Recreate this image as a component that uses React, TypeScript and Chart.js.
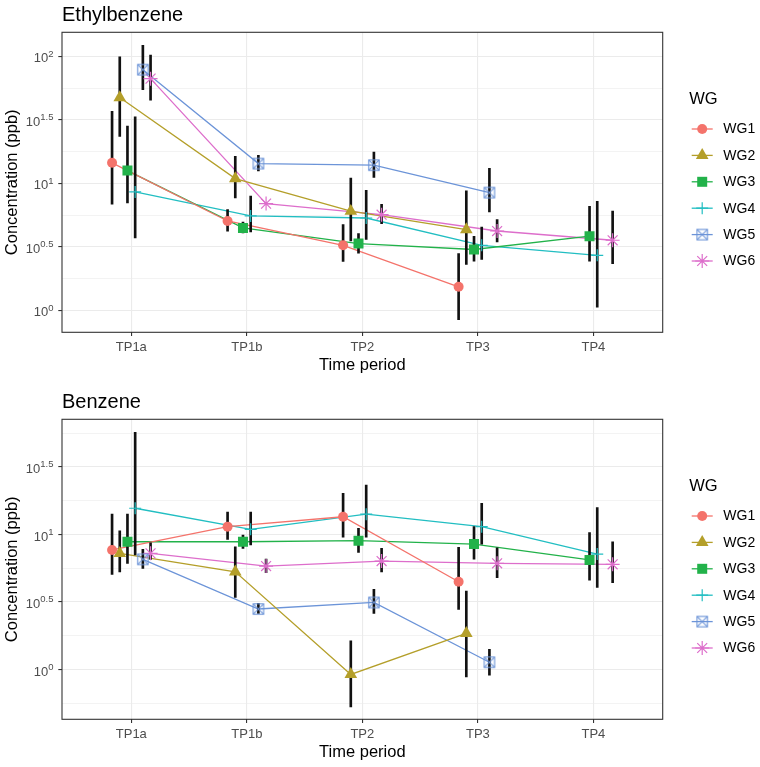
import React, { useEffect, useRef } from 'react';
import { Chart, registerables } from 'chart.js';

Chart.register(...registerables);

const FONT = '"Liberation Sans", Arial, Helvetica, sans-serif';

const CATEGORIES = ['TP1a', 'TP1b', 'TP2', 'TP3', 'TP4'];
const GROUPS = ['WG1', 'WG2', 'WG3', 'WG4', 'WG5', 'WG6'];
const GROUP_COLORS = ['#F4736B', '#B49F2A', '#22B24A', '#22BEC2', '#6C94D8', '#DD6ECB'];
const GROUP_SHAPES = ['circle', 'triangle', 'square', 'plus', 'squareCross', 'asterisk'];
const DODGE_WIDTH = 0.4;

const Y_TICK_EXPONENTS = [0, 0.5, 1, 1.5, 2];
const Y_TICK_LABELS = ['0', '0.5', '1', '1.5', '2'];

// Ethylbenzene (ppb): point value, lower and upper end of error bar
const ETHYL_Y_MIN = 0.671;
const ETHYL_Y_MAX = 154.5;
const ETHYL_WG1 = [14.5, 5.05, 3.25, 1.53, null];
const ETHYL_WG1_LO = [6.84, 4.19, 2.43, 0.845, null];
const ETHYL_WG1_HI = [36.9, 6.21, 4.73, 2.79, null];
const ETHYL_WG2 = [47.3, 10.9, 6.03, 4.32, null];
const ETHYL_WG2_LO = [23.4, 7.66, 3.51, 2.3, null];
const ETHYL_WG2_HI = [98.9, 16.3, 11.0, 8.71, null];
const ETHYL_WG3 = [12.6, 4.45, 3.35, 3.01, 3.83];
const ETHYL_WG3_LO = [7.0, 4.06, 2.82, 2.44, 2.44];
const ETHYL_WG3_HI = [28.2, 4.95, 4.02, 3.83, 6.59];
const ETHYL_WG4 = [8.55, 5.53, 5.33, 3.25, 2.71];
const ETHYL_WG4_LO = [3.72, 4.14, 3.61, 2.51, 1.06];
const ETHYL_WG4_HI = [33.3, 7.94, 8.81, 4.53, 7.21];
const ETHYL_WG5 = [78.5, 14.3, 13.9, 8.45, null];
const ETHYL_WG5_LO = [54.7, 12.5, 11.1, 5.94, null];
const ETHYL_WG5_HI = [122, 16.6, 17.6, 13.1, null];
const ETHYL_WG6 = [66.7, 6.92, 5.66, 4.21, 3.56];
const ETHYL_WG6_LO = [45.1, null, 4.82, 3.45, 2.33];
const ETHYL_WG6_HI = [102, null, 6.84, 5.18, 6.05];

// Benzene (ppb)
const BENZ_Y_MIN = 0.427;
const BENZ_Y_MAX = 71.1;
const BENZ_WG1 = [7.66, 11.4, 13.5, 4.46, null];
const BENZ_WG1_LO = [5.06, 9.18, 9.51, 2.78, null];
const BENZ_WG1_HI = [14.1, 14.6, 20.1, 8.02, null];
const BENZ_WG2 = [7.23, 5.28, 0.918, 1.85, null];
const BENZ_WG2_LO = [5.28, 3.41, 0.528, 0.881, null];
const BENZ_WG2_HI = [10.6, 8.09, 1.63, 3.8, null];
const BENZ_WG3 = [8.81, 8.81, 8.97, 8.47, 6.46];
const BENZ_WG3_LO = [6.1, 7.87, 7.36, 6.56, 4.58];
const BENZ_WG3_HI = [14.1, 9.89, 11.1, 11.4, 10.3];
const BENZ_WG4 = [15.6, 10.9, 14.1, 11.4, 7.14];
const BENZ_WG4_LO = [7.03, 8.34, 9.51, 8.47, 4.05];
const BENZ_WG4_HI = [57.0, 14.6, 23.2, 17.0, 15.8];
const BENZ_WG5 = [6.53, 2.8, 3.13, 1.13, null];
const BENZ_WG5_LO = [5.6, 2.6, 2.6, 0.908, null];
const BENZ_WG5_HI = [7.74, 3.08, 3.92, 1.41, null];
const BENZ_WG6 = [7.23, 5.82, 6.34, 6.1, 6.0];
const BENZ_WG6_LO = [6.53, 5.2, 5.28, 4.78, 4.38];
const BENZ_WG6_HI = [8.67, 6.56, 7.87, 7.96, 8.81];

type Arr = (number | null)[];
type Series = { mean: Arr; lo: Arr; hi: Arr };

const ETHYL_SERIES: Series[] = [
  { mean: ETHYL_WG1, lo: ETHYL_WG1_LO, hi: ETHYL_WG1_HI },
  { mean: ETHYL_WG2, lo: ETHYL_WG2_LO, hi: ETHYL_WG2_HI },
  { mean: ETHYL_WG3, lo: ETHYL_WG3_LO, hi: ETHYL_WG3_HI },
  { mean: ETHYL_WG4, lo: ETHYL_WG4_LO, hi: ETHYL_WG4_HI },
  { mean: ETHYL_WG5, lo: ETHYL_WG5_LO, hi: ETHYL_WG5_HI },
  { mean: ETHYL_WG6, lo: ETHYL_WG6_LO, hi: ETHYL_WG6_HI },
];
const BENZ_SERIES: Series[] = [
  { mean: BENZ_WG1, lo: BENZ_WG1_LO, hi: BENZ_WG1_HI },
  { mean: BENZ_WG2, lo: BENZ_WG2_LO, hi: BENZ_WG2_HI },
  { mean: BENZ_WG3, lo: BENZ_WG3_LO, hi: BENZ_WG3_HI },
  { mean: BENZ_WG4, lo: BENZ_WG4_LO, hi: BENZ_WG4_HI },
  { mean: BENZ_WG5, lo: BENZ_WG5_LO, hi: BENZ_WG5_HI },
  { mean: BENZ_WG6, lo: BENZ_WG6_LO, hi: BENZ_WG6_HI },
];

// layout (px, within each panel canvas)
const CANVAS_W = 760;
const PLOT_LEFT = 62;
const PLOT_RIGHT = 662.7;
const PLOT_TOP = 32.3;
const PLOT_BOTTOM = 332.3;

const POINT_RADIUS: Record<string, number> = {
  circle: 5, triangle: 7.3, square: 7.07, plus: 6, squareCross: 6, asterisk: 7,
};

function xPos(ci: number, gi: number) {
  const n = GROUPS.length;
  return ci + (gi - (n - 1) / 2) * (DODGE_WIDTH / n);
}

function makeSquareCross(color: string) {
  const c = document.createElement('canvas');
  c.width = 14;
  c.height = 14;
  const g = c.getContext('2d')!;
  g.strokeStyle = color;
  g.lineWidth = 1.1;
  const a = 1.8, b = 12.2;
  g.strokeRect(a, a, b - a, b - a);
  g.beginPath();
  g.moveTo(a, a); g.lineTo(b, b);
  g.moveTo(b, a); g.lineTo(a, b);
  g.stroke();
  return c;
}

function drawSymbol(ctx: CanvasRenderingContext2D, shape: string, x: number, y: number, color: string, img: HTMLCanvasElement) {
  const r = POINT_RADIUS[shape];
  ctx.save();
  ctx.fillStyle = color;
  ctx.strokeStyle = color;
  ctx.lineWidth = 1.2;
  ctx.beginPath();
  if (shape === 'circle') {
    ctx.arc(x, y, r, 0, Math.PI * 2);
    ctx.fill();
  } else if (shape === 'triangle') {
    for (let k = 0; k < 3; k++) {
      const ang = (k * 2 * Math.PI) / 3;
      const px = x + Math.sin(ang) * r, py = y - Math.cos(ang) * r;
      if (k === 0) ctx.moveTo(px, py); else ctx.lineTo(px, py);
    }
    ctx.closePath();
    ctx.fill();
  } else if (shape === 'square') {
    const s = r * Math.SQRT1_2;
    ctx.rect(x - s, y - s, 2 * s, 2 * s);
    ctx.fill();
  } else if (shape === 'plus') {
    ctx.moveTo(x - r, y); ctx.lineTo(x + r, y);
    ctx.moveTo(x, y - r); ctx.lineTo(x, y + r);
    ctx.stroke();
  } else if (shape === 'asterisk') {
    const d = r * Math.SQRT1_2;
    ctx.moveTo(x - r, y); ctx.lineTo(x + r, y);
    ctx.moveTo(x, y - r); ctx.lineTo(x, y + r);
    ctx.moveTo(x - d, y - d); ctx.lineTo(x + d, y + d);
    ctx.moveTo(x + d, y - d); ctx.lineTo(x - d, y + d);
    ctx.stroke();
  } else if (shape === 'squareCross') {
    ctx.drawImage(img, x - img.width / 2, y - img.height / 2);
  }
  ctx.restore();
}

const decorPlugin = {
  id: 'decor',
  afterDraw(chart: any, _args: any, opts: any) {
    const { ctx, chartArea: a } = chart;
    const yScale = chart.scales.y;
    ctx.save();
    // panel border
    ctx.strokeStyle = '#333333';
    ctx.lineWidth = 1.1;
    ctx.strokeRect(a.left, a.top, a.right - a.left, a.bottom - a.top);

    // panel title
    ctx.fillStyle = '#000000';
    ctx.font = `20px ${FONT}`;
    ctx.textAlign = 'left';
    ctx.textBaseline = 'alphabetic';
    ctx.fillText(opts.title, a.left, 21);

    // y tick labels 10^x
    const rightX = a.left - 8.5;
    Y_TICK_EXPONENTS.forEach((e, i) => {
      const v = Math.pow(10, e);
      if (v < yScale.min || v > yScale.max) return;
      const py = yScale.getPixelForValue(v);
      ctx.fillStyle = '#4D4D4D';
      ctx.font = `9.5px ${FONT}`;
      const supW = ctx.measureText(Y_TICK_LABELS[i]).width;
      ctx.textAlign = 'left';
      ctx.textBaseline = 'alphabetic';
      ctx.fillText(Y_TICK_LABELS[i], rightX - supW, py + 0.6);
      ctx.font = `13px ${FONT}`;
      ctx.textAlign = 'right';
      ctx.fillText('10', rightX - supW, py + 6.2);
    });

    // legend
    const lx = 689.3;
    ctx.fillStyle = '#000000';
    ctx.font = `16.5px ${FONT}`;
    ctx.textAlign = 'left';
    ctx.textBaseline = 'middle';
    ctx.fillText('WG', lx, 99.5);
    GROUPS.forEach((g, gi) => {
      const cy = 129 + gi * 26.4;
      const cx = 702.2;
      ctx.strokeStyle = GROUP_COLORS[gi];
      ctx.lineWidth = 1.3;
      ctx.beginPath();
      ctx.moveTo(cx - 10.5, cy);
      ctx.lineTo(cx + 10.5, cy);
      ctx.stroke();
      drawSymbol(ctx, GROUP_SHAPES[gi], cx, cy, GROUP_COLORS[gi], opts.images[gi]);
      ctx.fillStyle = '#000000';
      ctx.font = `14px ${FONT}`;
      ctx.textAlign = 'left';
      ctx.textBaseline = 'middle';
      ctx.fillText(g, 723.3, cy + 0.5);
    });
    ctx.restore();
  },
};

function isMajor(v: number) {
  const e = Math.log10(v) * 2;
  return Math.abs(e - Math.round(e)) < 1e-6;
}

function Panel({ title, series, yMin, yMax, height, top }: { title: string; series: Series[]; yMin: number; yMax: number; height: number; top: number }) {
  const ref = useRef<HTMLCanvasElement>(null);
  useEffect(() => {
    const canvas = ref.current;
    if (!canvas) return;
    const images = GROUP_COLORS.map((c) => makeSquareCross(c));
    const pointStyleFor = (gi: number): any => {
      const s = GROUP_SHAPES[gi];
      if (s === 'circle') return 'circle';
      if (s === 'triangle') return 'triangle';
      if (s === 'square') return 'rect';
      if (s === 'plus') return 'cross';
      if (s === 'asterisk') return 'star';
      return images[gi];
    };

    const datasets: any[] = [];
    series.forEach((s, gi) => {
      const pts: any[] = [];
      s.mean.forEach((v, ci) => { if (v != null) pts.push({ x: xPos(ci, gi), y: v }); });
      datasets.push({
        type: 'line', label: GROUPS[gi], data: pts, borderColor: GROUP_COLORS[gi], borderWidth: 1.3,
        pointRadius: 0, pointHoverRadius: 0, fill: false, tension: 0, order: 3,
      });
    });
    const err: any[] = [];
    series.forEach((s, gi) => {
      s.mean.forEach((v, ci) => {
        const lo = s.lo[ci], hi = s.hi[ci];
        if (v != null && lo != null && hi != null) err.push({ x: xPos(ci, gi), y: [lo, hi] });
      });
    });
    datasets.push({
      type: 'bar', label: 'error', data: err, backgroundColor: '#111111', borderWidth: 0,
      barThickness: 2, grouped: false, order: 2,
    });
    series.forEach((s, gi) => {
      const pts: any[] = [];
      s.mean.forEach((v, ci) => { if (v != null) pts.push({ x: xPos(ci, gi), y: v }); });
      const shape = GROUP_SHAPES[gi];
      const stroked = shape === 'plus' || shape === 'asterisk';
      datasets.push({
        type: 'line', label: GROUPS[gi] + ' points', data: pts, showLine: false,
        pointStyle: pointStyleFor(gi), pointRadius: POINT_RADIUS[shape], pointHoverRadius: POINT_RADIUS[shape],
        pointBackgroundColor: GROUP_COLORS[gi], pointBorderColor: GROUP_COLORS[gi],
        pointBorderWidth: stroked ? 1.2 : 0, order: 1,
      });
    });

    const lo = Math.log10(yMin), hi = Math.log10(yMax);
    const tickExps: number[] = [];
    for (let e = Math.ceil(lo * 4) / 4; e <= hi + 1e-9; e += 0.25) tickExps.push(e);

    const xTitleCenter = PLOT_BOTTOM + 33.5;
    const chart = new Chart(canvas, {
      type: 'line',
      data: { datasets },
      plugins: [decorPlugin],
      options: {
        responsive: false,
        animation: false,
        devicePixelRatio: 1,
        layout: { padding: { left: 0, top: PLOT_TOP, right: CANVAS_W - PLOT_RIGHT, bottom: 0 } },
        plugins: {
          legend: { display: false },
          tooltip: { enabled: false },
          title: { display: false },
          decor: { title, images },
        } as any,
        scales: {
          x: {
            type: 'linear', min: -0.6, max: CATEGORIES.length - 0.4, bounds: 'data', offset: false,
            afterBuildTicks: (s: any) => { s.ticks = CATEGORIES.map((_, i) => ({ value: i })); },
            afterFit: (s: any) => { s.height = height - PLOT_BOTTOM; },
            ticks: {
              callback: (v: any) => CATEGORIES[Math.round(v)] ?? '',
              color: '#4D4D4D', font: { family: FONT, size: 13 }, padding: 3.5,
              autoSkip: false, maxRotation: 0, minRotation: 0,
            },
            grid: {
              offset: false, color: '#EBEBEB', lineWidth: 1.1, drawTicks: true, tickLength: 3.7,
              tickColor: '#333333', tickWidth: 1.1,
            },
            border: { display: false },
            title: {
              display: true, text: 'Time period', color: '#000000', font: { family: FONT, size: 16.5 },
              padding: { top: 0, bottom: height - 9.9 - xTitleCenter },
            },
          },
          y: {
            type: 'logarithmic', min: yMin, max: yMax, bounds: 'data',
            afterBuildTicks: (s: any) => { s.ticks = tickExps.map((e) => ({ value: Math.pow(10, e) })); },
            afterFit: (s: any) => { s.width = PLOT_LEFT; },
            ticks: { display: false },
            grid: {
              offset: false,
              color: '#EBEBEB',
              lineWidth: (c: any) => (c.tick && isMajor(c.tick.value) ? 1.1 : 0.6),
              drawTicks: true, tickLength: 3.7, tickWidth: 1.1,
              tickColor: (c: any) => (c.tick && isMajor(c.tick.value) ? '#333333' : 'rgba(0,0,0,0)'),
            },
            border: { display: false },
            title: {
              display: true, text: 'Concentration (ppb)', color: '#000000', font: { family: FONT, size: 16.5 },
              padding: { top: 3, bottom: 0 },
            },
          },
        } as any,
      },
    } as any);
    return () => chart.destroy();
  }, []);
  return (
    <canvas
      ref={ref}
      width={CANVAS_W}
      height={height}
      style={{ position: 'absolute', left: 0, top, width: CANVAS_W, height, display: 'block' }}
    />
  );
}

export default function App() {
  return (
    <div style={{ position: 'absolute', left: 0, top: 0, width: 760, height: 767, background: '#ffffff', overflow: 'hidden' }}>
      <Panel title="Ethylbenzene" series={ETHYL_SERIES} yMin={ETHYL_Y_MIN} yMax={ETHYL_Y_MAX} height={387} top={0} />
      <Panel title="Benzene" series={BENZ_SERIES} yMin={BENZ_Y_MIN} yMax={BENZ_Y_MAX} height={380} top={387} />
    </div>
  );
}
